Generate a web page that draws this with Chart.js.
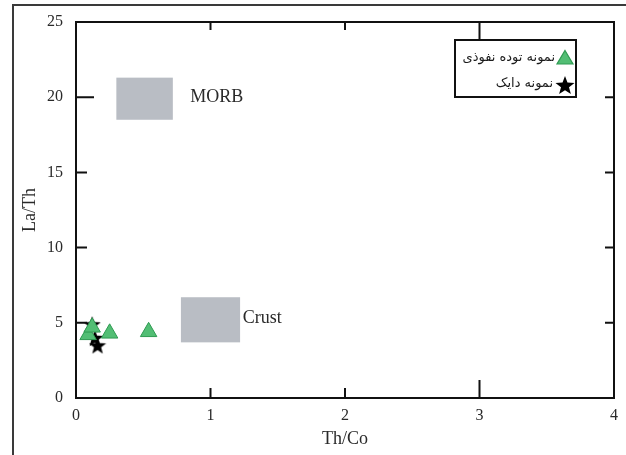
<!DOCTYPE html>
<html>
<head>
<meta charset="utf-8">
<script src="https://cdn.jsdelivr.net/npm/chart.js@4.4.1/dist/chart.umd.min.js"></script>
<style>
  html, body { margin: 0; padding: 0; background: #fff; }
  #wrap { width: 626px; height: 455px; position: relative; }
</style>
</head>
<body>
<div id="wrap"><canvas id="c" width="626" height="455"></canvas></div>
<script>
// Th/Co vs La/Th discrimination diagram
const xTicks = [0, 1, 2, 3, 4];
const yTicks = [0, 5, 10, 15, 20, 25];

// intrusive body samples (triangles)
const intrusiveThCo = [0.09, 0.12, 0.25, 0.54];
const intrusiveLaTh = [4.2, 4.7, 4.3, 4.4];

// dyke samples (stars)
const dykeThCo = [0.12, 0.14, 0.16];
const dykeLaTh = [4.9, 4.0, 3.5];

// reference fields: [xMin, xMax], [yMin, yMax]
const fieldNames = ['MORB', 'Crust'];
const fieldX = [[0.3, 0.72], [0.78, 1.22]];
const fieldY = [[18.5, 21.3], [3.7, 6.7]];
const fieldLabelPos = [[0.85, 20], [1.24, 5.3]];

const legendLabels = ['نمونه توده نفوذی', 'نمونه دایک'];

const serif = "'Liberation Serif', 'Times New Roman', serif";
const textColor = '#2a2a2a';

function makeStar(size) {
  const cv = document.createElement('canvas');
  cv.width = size; cv.height = size;
  const g = cv.getContext('2d');
  const cx = size / 2, cy = size / 2 + size * 0.05;
  const R = size / 2, r = R * 0.42;
  g.beginPath();
  for (let i = 0; i < 10; i++) {
    const a = -Math.PI / 2 + i * Math.PI / 5;
    const rr = i % 2 === 0 ? R : r;
    g.lineTo(cx + rr * Math.cos(a), cy + rr * Math.sin(a));
  }
  g.closePath();
  g.fillStyle = '#000';
  g.fill();
  return cv;
}
const starPoint = makeStar(18);
const starLegend = makeStar(20);

const triFill = '#52be74';
const triBorder = '#2f9a52';

// page frame, fields, inward ticks, chart-area box and legend
const decorations = {
  id: 'decorations',
  beforeDraw(chart) {
    const ctx = chart.ctx;
    ctx.save();
    ctx.strokeStyle = '#3a3a3a';
    ctx.lineWidth = 2;
    ctx.beginPath();
    ctx.moveTo(13, 455);
    ctx.lineTo(13, 5);
    ctx.lineTo(626, 5);
    ctx.stroke();
    ctx.restore();
  },
  beforeDatasetsDraw(chart) {
    const ctx = chart.ctx;
    const xs = chart.scales.x, ys = chart.scales.y;
    ctx.save();
    ctx.fillStyle = '#b9bdc4';
    for (let i = 0; i < fieldNames.length; i++) {
      const x0 = xs.getPixelForValue(fieldX[i][0]);
      const x1 = xs.getPixelForValue(fieldX[i][1]);
      const y0 = ys.getPixelForValue(fieldY[i][1]);
      const y1 = ys.getPixelForValue(fieldY[i][0]);
      ctx.fillRect(x0, y0, x1 - x0, y1 - y0);
    }
    ctx.fillStyle = textColor;
    ctx.font = '18px ' + serif;
    ctx.textAlign = 'left';
    ctx.textBaseline = 'middle';
    for (let i = 0; i < fieldNames.length; i++) {
      ctx.fillText(fieldNames[i],
        xs.getPixelForValue(fieldLabelPos[i][0]),
        ys.getPixelForValue(fieldLabelPos[i][1]));
    }
    ctx.restore();
  },
  afterDraw(chart) {
    const ctx = chart.ctx;
    const a = chart.chartArea;
    const xs = chart.scales.x, ys = chart.scales.y;
    ctx.save();
    ctx.strokeStyle = '#111';
    ctx.lineWidth = 2;
    ctx.strokeRect(a.left, a.top, a.right - a.left, a.bottom - a.top);
    ctx.beginPath();
    xTicks.slice(1, -1).forEach(v => {
      const px = xs.getPixelForValue(v);
      const lenB = v === 3 ? 18 : 10;
      const lenT = v === 3 ? 18 : 8;
      ctx.moveTo(px, a.bottom); ctx.lineTo(px, a.bottom - lenB);
      ctx.moveTo(px, a.top); ctx.lineTo(px, a.top + lenT);
    });
    yTicks.slice(1, -1).forEach(v => {
      const py = ys.getPixelForValue(v);
      const lenL = v === 20 ? 18 : 11;
      ctx.moveTo(a.left, py); ctx.lineTo(a.left + lenL, py);
      ctx.moveTo(a.right, py); ctx.lineTo(a.right - 9, py);
    });
    ctx.stroke();

    // legend box
    const bx = 455, by = 40, bw = 121, bh = 57;
    ctx.fillStyle = '#fff';
    ctx.fillRect(bx, by, bw, bh);
    ctx.strokeRect(bx, by, bw, bh);
    const ds = chart.data.datasets;
    // triangle entry
    const tx = 565, ty = 58;
    ctx.beginPath();
    ctx.moveTo(tx, ty - 7.5);
    ctx.lineTo(tx + 8, ty + 6);
    ctx.lineTo(tx - 8, ty + 6);
    ctx.closePath();
    ctx.fillStyle = ds[0].backgroundColor;
    ctx.fill();
    ctx.lineWidth = 1.2;
    ctx.strokeStyle = ds[0].borderColor;
    ctx.stroke();
    // star entry
    ctx.drawImage(starLegend, 565 - 10, 85 - 10);
    ctx.fillStyle = '#1a1a1a';
    ctx.font = '13px "DejaVu Sans", sans-serif';
    ctx.textAlign = 'right';
    ctx.textBaseline = 'middle';
    ctx.direction = 'rtl';
    ctx.fillText(ds[0].label, 555, 58);
    ctx.fillText(ds[1].label, 553, 84);
    ctx.restore();
  }
};

new Chart(document.getElementById('c'), {
  type: 'scatter',
  data: {
    datasets: [
      {
        label: legendLabels[0],
        data: intrusiveThCo.map((x, i) => ({ x, y: intrusiveLaTh[i] })),
        pointStyle: 'triangle',
        pointRadius: 9.5,
        backgroundColor: triFill,
        borderColor: triBorder,
        borderWidth: 1,
        order: 1
      },
      {
        label: legendLabels[1],
        data: dykeThCo.map((x, i) => ({ x, y: dykeLaTh[i] })),
        pointStyle: starPoint,
        pointRadius: 9,
        backgroundColor: '#000',
        borderColor: '#000',
        order: 2
      }
    ]
  },
  options: {
    responsive: false,
    animation: false,
    layout: { padding: { top: 22, right: 12, left: 0, bottom: 0 } },
    plugins: { legend: { display: false }, tooltip: { enabled: false } },
    scales: {
      x: {
        type: 'linear',
        min: 0, max: 4,
        afterBuildTicks(s) { s.ticks = xTicks.map(v => ({ value: v })); },
        afterFit(s) { s.height = 57; },
        grid: { display: false },
        border: { display: false },
        ticks: { color: textColor, padding: 0, font: { family: serif, size: 16 } },
        title: {
          display: true, text: 'Th/Co', color: textColor,
          font: { family: serif, size: 18 }, padding: { top: 0, bottom: 5 }
        }
      },
      y: {
        type: 'linear',
        min: 0, max: 25,
        afterBuildTicks(s) { s.ticks = yTicks.map(v => ({ value: v })); },
        afterFit(s) { s.width = 76; },
        grid: { display: false },
        border: { display: false },
        ticks: { color: textColor, padding: 5, font: { family: serif, size: 16 } },
        title: {
          display: true, text: 'La/Th', color: textColor,
          font: { family: serif, size: 18 }, padding: { top: 19, bottom: 0 }
        }
      }
    }
  },
  plugins: [decorations]
});
</script>
</body>
</html>
